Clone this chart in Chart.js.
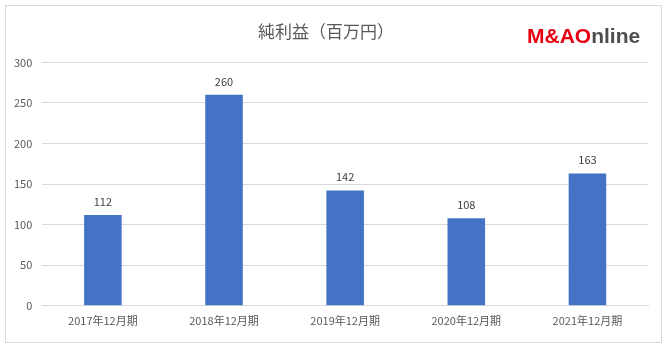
<!DOCTYPE html>
<html>
<head>
<meta charset="utf-8">
<script src="https://cdn.jsdelivr.net/npm/chart.js@4"></script>
<style>
  html, body { margin: 0; padding: 0; background: #fff; }
  #wrap { width: 666px; height: 350px; position: relative; }
</style>
</head>
<body>
<div id="wrap"><canvas id="profit"></canvas></div>
<script>
// data
const periods = ['2017年12月期', '2018年12月期', '2019年12月期', '2020年12月期', '2021年12月期'];
const netIncome = [112, 260, 142, 108, 163];
const yTicks = [0, 50, 100, 150, 200, 250, 300];

const font = "'Noto Sans CJK JP', 'Noto Sans', sans-serif";

// frame, value labels and logo
const decorations = {
    id: 'decorations',
    beforeDraw(chart) {
        const ctx = chart.ctx;
        ctx.save();
        ctx.fillStyle = '#fff';
        ctx.fillRect(0, 0, chart.width, chart.height);
        ctx.strokeStyle = '#d9d9d9';
        ctx.lineWidth = 1;
        ctx.strokeRect(5.5, 5.5, 656, 337);
        ctx.restore();
    },
    afterDatasetsDraw(chart) {
        const ctx = chart.ctx;
        ctx.save();
        ctx.fillStyle = '#404040';
        ctx.font = '11px ' + font;
        ctx.textAlign = 'center';
        ctx.textBaseline = 'bottom';
        chart.getDatasetMeta(0).data.forEach(function (bar, i) {
            ctx.fillText(netIncome[i], bar.x, bar.y - 8);
        });

        // logo
        ctx.font = "bold 21px 'Liberation Sans', sans-serif";
        ctx.textAlign = 'left';
        ctx.textBaseline = 'alphabetic';
        let x = 527;
        const y = 43;
        ctx.fillStyle = '#e60012';
        ctx.fillText('M&AO', x, y);
        x += ctx.measureText('M&AO').width;
        ctx.fillStyle = '#4d4d4d';
        ctx.fillText('nline', x, y);
        ctx.restore();
    }
};

new Chart(document.getElementById('profit'), {
    type: 'bar',
    data: {
        labels: periods,
        datasets: [{
            label: '純利益',
            data: netIncome,
            backgroundColor: '#4472c4',
            barPercentage: 1,
            categoryPercentage: 0.31
        }]
    },
    options: {
        responsive: true,
        maintainAspectRatio: false,
        animation: false,
        layout: { padding: { left: 4, right: 18, top: 8, bottom: 15 } },
        plugins: {
            legend: { display: false },
            tooltip: { enabled: false },
            title: {
                display: true,
                text: '純利益（百万円）',
                color: '#595959',
                font: { family: font, size: 17, weight: 'normal' },
                padding: { top: 13, bottom: 21 }
            }
        },
        scales: {
            x: {
                grid: { display: false, drawTicks: false },
                border: { color: '#d9d9d9' },
                ticks: { color: '#595959', font: { family: font, size: 11 }, padding: 8, maxRotation: 0 }
            },
            y: {
                min: 0,
                max: 300,
                afterBuildTicks(axis) {
                    axis.ticks = yTicks.map(v => ({ value: v }));
                },
                grid: { color: '#d9d9d9', drawTicks: false },
                border: { display: false },
                ticks: { color: '#595959', font: { family: font, size: 11 }, padding: 10 }
            }
        }
    },
    plugins: [decorations]
});
</script>
</body>
</html>
